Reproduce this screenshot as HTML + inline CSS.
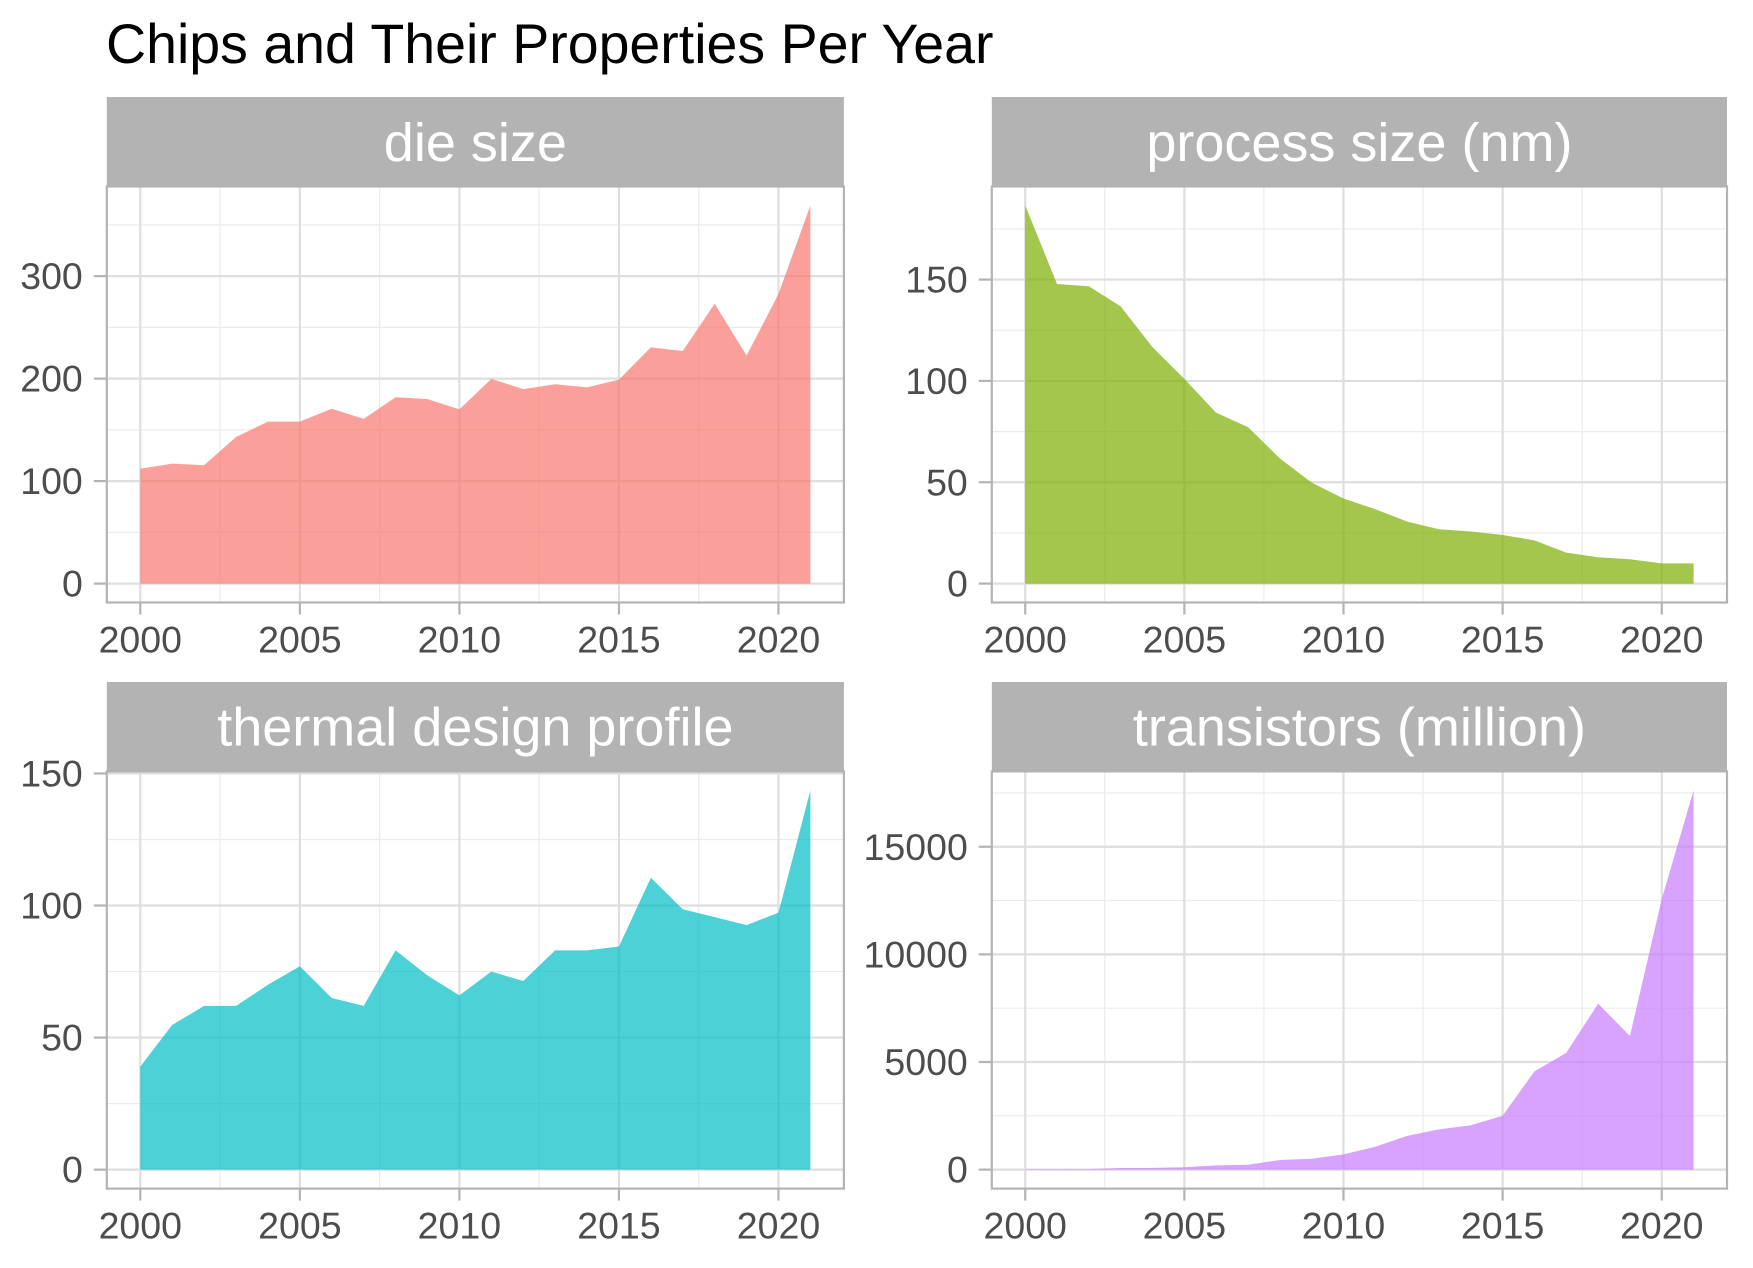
<!DOCTYPE html>
<html><head><meta charset="utf-8"><style>
html,body{margin:0;padding:0;background:#fff;}
svg{display:block;font-family:"Liberation Sans",Arial,sans-serif;}
</style></head><body>
<svg id="chart" width="1753" height="1268" viewBox="0 0 1753 1268" xmlns="http://www.w3.org/2000/svg">
<text x="106" y="63" font-size="55.5" fill="#000">Chips and Their Properties Per Year</text>
</svg>
<script>
const years = [2000,2001,2002,2003,2004,2005,2006,2007,2008,2009,2010,2011,2012,2013,2014,2015,2016,2017,2018,2019,2020,2021];
const dieSize = [112,117,115.5,143,158,158,170.6,160.7,181.8,180,170,199.7,189.8,194.5,191.5,199,230.5,227,273,222.4,282.5,369];
const processSize = [186.6,147.8,146.7,136.8,116.6,101,84.3,77.2,61.8,49.8,42,36.7,30.6,26.8,25.7,24,21.3,15.3,13,12,10,10];
const tdp = [39,54.8,62,62,70,77,65,62,83,73.5,66,75,71.4,83,83,84.5,110.5,98.6,95.6,92.6,97.3,143.6];
const transistors = [20,25,30,75,80,110,200,225,450,505,710,1065,1570,1870,2060,2505,4565,5425,7710,6210,12570,17620];
const xTicks = [2000,2005,2010,2015,2020];
const dieTicks = [0,100,200,300];
const processTicks = [0,50,100,150];
const tdpTicks = [0,50,100,150];
const transTicks = [0,5000,10000,15000];
const panelTitles = ["die size","process size (nm)","thermal design profile","transistors (million)"];

const NS="http://www.w3.org/2000/svg";
const svg=document.getElementById('chart');
function mk(tag,attrs,parent){const e=document.createElementNS(NS,tag);for(const k in attrs)e.setAttribute(k,attrs[k]);(parent||svg).appendChild(e);return e;}

const panels=[
 {name:'die-size',vals:dieSize,ticks:dieTicks,color:'#F8766D',x0:106.8,x1:843.9,st:97,pt:186.5,pb:602.5},
 {name:'process-size',vals:processSize,ticks:processTicks,color:'#7CAE00',x0:991.8,x1:1727,st:97,pt:186.5,pb:602.5},
 {name:'thermal-design-profile',vals:tdp,ticks:tdpTicks,color:'#00BFC4',x0:106.8,x1:843.9,st:682,pt:771.4,pb:1188.6},
 {name:'transistors',vals:transistors,ticks:transTicks,color:'#C77CFF',x0:991.8,x1:1727,st:682,pt:771.4,pb:1188.6}
];

panels.forEach((p,i)=>{
 const g=mk('g',{});
 
 
 const xmin=years[0],xmax=years[years.length-1],xr=xmax-xmin;
 const X=v=>p.x0+(v-(xmin-0.05*xr))/(1.1*xr)*(p.x1-p.x0);
 const ymax=Math.max(...p.vals);
 const Y=v=>p.pb-(v+0.05*ymax)/(1.1*ymax)*(p.pb-p.pt);
 const strip=mk('rect',{x:p.x0,y:p.st,width:p.x1-p.x0,height:p.pt-p.st,fill:'#B3B3B3'},g);
 
 
 const st=mk('text',{x:(p.x0+p.x1)/2,y:p.st+(p.pt-p.st)/2+19,'text-anchor':'middle','font-size':54,fill:'#fff'},g);
 st.textContent=panelTitles[i];
 
 
 const dx=xTicks[1]-xTicks[0];
 for(let k=0;k<xTicks.length;k++){const v=xTicks[k]+dx/2;if(X(v)<p.x1)mk('line',{x1:X(v),x2:X(v),y1:p.pt,y2:p.pb,stroke:'#EBEBEB','stroke-width':1.2},g);}
 const dy=p.ticks[1]-p.ticks[0];
 for(let k=0;k<=p.ticks.length;k++){const v=p.ticks[0]+dy*(k+0.5);if(Y(v)>p.pt)mk('line',{x1:p.x0,x2:p.x1,y1:Y(v),y2:Y(v),stroke:'#EBEBEB','stroke-width':1.2},g);}
 xTicks.forEach(v=>mk('line',{x1:X(v),x2:X(v),y1:p.pt,y2:p.pb,stroke:'#DEDEDE','stroke-width':2.2},g));
 p.ticks.forEach(v=>mk('line',{x1:p.x0,x2:p.x1,y1:Y(v),y2:Y(v),stroke:'#DEDEDE','stroke-width':2.2},g));
 let d='M'+X(years[0])+','+Y(0);
 years.forEach((yr,j)=>{d+=' L'+X(yr)+','+Y(p.vals[j]);});
 d+=' L'+X(years[years.length-1])+','+Y(0)+' Z';
 const area=mk('path',{d:d,fill:p.color,'fill-opacity':0.7},g);
 
 
 mk('rect',{x:p.x0,y:p.pt,width:p.x1-p.x0,height:p.pb-p.pt,fill:'none',stroke:'#B3B3B3','stroke-width':2.2},g);
 xTicks.forEach(v=>{
  mk('line',{x1:X(v),x2:X(v),y1:p.pb,y2:p.pb+12,stroke:'#B3B3B3','stroke-width':2.2},g);
  const t=mk('text',{x:X(v),y:p.pb+50,'text-anchor':'middle','font-size':37.5,fill:'#4D4D4D'},g);
  t.textContent=v;
  
  
 });
 p.ticks.forEach(v=>{
  mk('line',{x1:p.x0-13,x2:p.x0,y1:Y(v),y2:Y(v),stroke:'#B3B3B3','stroke-width':2.2},g);
  const t=mk('text',{x:p.x0-24,y:Y(v)+13,'text-anchor':'end','font-size':37.5,fill:'#4D4D4D'},g);
  t.textContent=v;
  
  
 });
});
</script>
</body></html>
